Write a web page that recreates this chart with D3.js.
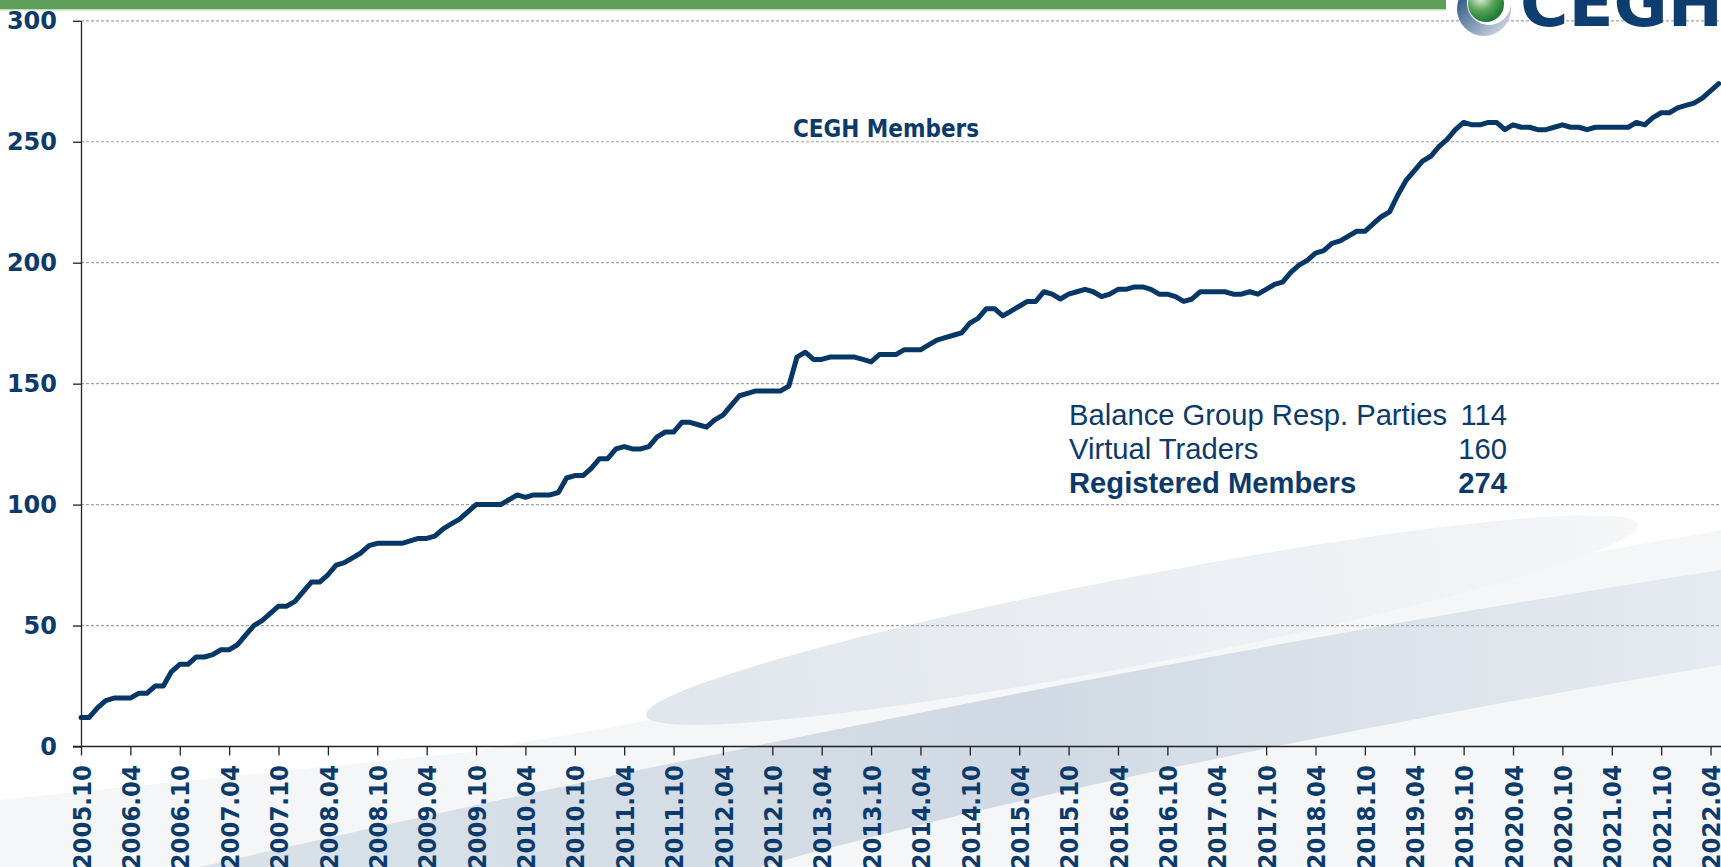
<!DOCTYPE html>
<html>
<head>
<meta charset="utf-8">
<script src="https://cdn.jsdelivr.net/npm/d3@7"></script>
<style>
  body { margin: 0; background: #fff; overflow: hidden; }
  svg { display: block; }
</style>
</head>
<body>
<svg id="chart"></svg>
<script>
// Chart size = browser window
const width = 1721, height = 867;

// Monthly number of CEGH members, first month 2005.10
const startYear = 2005, startMonth = 10;
const members = [
  12, 12, 16, 19, 20, 20, 20, 22, 22, 25, 25, 31, 34, 34, 37, 37, 38, 40, 40, 42,
  46, 50, 52, 55, 58, 58, 60, 64, 68, 68, 71, 75, 76, 78, 80, 83, 84, 84, 84, 84,
  85, 86, 86, 87, 90, 92, 94, 97, 100, 100, 100, 100, 102, 104, 103, 104, 104, 104, 105, 111,
  112, 112, 115, 119, 119, 123, 124, 123, 123, 124, 128, 130, 130, 134, 134, 133, 132, 135, 137, 141,
  145, 146, 147, 147, 147, 147, 149, 161, 163, 160, 160, 161, 161, 161, 161, 160, 159, 162, 162, 162,
  164, 164, 164, 166, 168, 169, 170, 171, 175, 177, 181, 181, 178, 180, 182, 184, 184, 188, 187, 185,
  187, 188, 189, 188, 186, 187, 189, 189, 190, 190, 189, 187, 187, 186, 184, 185, 188, 188, 188, 188,
  187, 187, 188, 187, 189, 191, 192, 196, 199, 201, 204, 205, 208, 209, 211, 213, 213, 216, 219, 221,
  228, 234, 238, 242, 244, 248, 251, 255, 258, 257, 257, 258, 258, 255, 257, 256, 256, 255, 255, 256,
  257, 256, 256, 255, 256, 256, 256, 256, 256, 258, 257, 260, 262, 262, 264, 265, 266, 268, 271, 274
];

// Labelled ticks on the category axis
const tickLabels = [
  "2005.10", "2006.04", "2006.10", "2007.04", "2007.10", "2008.04", "2008.10", "2009.04",
  "2009.10", "2010.04", "2010.10", "2011.04", "2011.10", "2012.04", "2012.10", "2013.04",
  "2013.10", "2014.04", "2014.10", "2015.04", "2015.10", "2016.04", "2016.10", "2017.04",
  "2017.10", "2018.04", "2018.10", "2019.04", "2019.10", "2020.04", "2020.10", "2021.04",
  "2021.10", "2022.04"
];
const yTicks = [0, 50, 100, 150, 200, 250, 300];

// Summary box
const summaryLabels = ["Balance Group Resp. Parties", "Virtual Traders", "Registered Members"];
const summaryValues = [114, 160, 274];

const navy = "#0c3a6a";
const boldFont = "'DejaVu Sans', Verdana, sans-serif";
const narrowFont = "'DejaVu Sans Condensed', 'DejaVu Sans', Verdana, sans-serif";

// month categories 2005.10, 2005.11, ...
const months = members.map((_, i) => {
  const t = startMonth - 1 + i;
  return `${startYear + Math.floor(t / 12)}.${String(t % 12 + 1).padStart(2, "0")}`;
});

const svg = d3.select("#chart")
  .attr("width", width)
  .attr("height", height);

const x = d3.scalePoint()
  .domain(months)
  .range([81, 81 + 8.23 * (months.length - 1)]);

const y = d3.scaleLinear()
  .domain([0, 300])
  .range([746.5, 20.8]);

const defs = svg.append("defs");

// --- faint background artwork (the slide's swoosh) ---
const bandGrad = defs.append("linearGradient").attr("id", "band")
  .attr("x1", "0%").attr("y1", "0%").attr("x2", "100%").attr("y2", "0%");
bandGrad.append("stop").attr("offset", "0%").attr("stop-color", "#d9e1e9");
bandGrad.append("stop").attr("offset", "55%").attr("stop-color", "#d1dae4");
bandGrad.append("stop").attr("offset", "100%").attr("stop-color", "#e6ebf0");

const ovalGrad = defs.append("linearGradient").attr("id", "oval")
  .attr("x1", "0%").attr("y1", "0%").attr("x2", "100%").attr("y2", "0%");
ovalGrad.append("stop").attr("offset", "0%").attr("stop-color", "#e1e6ec");
ovalGrad.append("stop").attr("offset", "100%").attr("stop-color", "#f4f6f8");

const bg = svg.append("g");
bg.append("path")
  .attr("d", "M0,800 L470,752 L1721,530 L1721,867 L0,867 Z")
  .attr("fill", "#f4f6f8");
bg.append("path")
  .attr("d", "M200,867 C620,770 1200,650 1721,570 L1721,665 C1300,735 960,810 760,867 Z")
  .attr("fill", "url(#band)");
bg.append("ellipse")
  .attr("cx", 1142).attr("cy", 620)
  .attr("rx", 505).attr("ry", 44)
  .attr("transform", "rotate(-10.9 1142 620)")
  .attr("fill", "url(#oval)");

// --- top green bar ---
svg.append("rect").attr("x", 0).attr("y", 0).attr("width", 1446).attr("height", 9).attr("fill", "#5f9e59");
svg.append("rect").attr("x", 0).attr("y", 9).attr("width", 1446).attr("height", 1.5).attr("fill", "#bfe0b6");

// --- gridlines ---
svg.append("g")
  .selectAll("line")
  .data(yTicks.filter(d => d > 0))
  .join("line")
  .attr("x1", 81).attr("x2", width)
  .attr("y1", d => y(d)).attr("y2", d => y(d))
  .attr("stroke", "#a3a3a3")
  .attr("stroke-width", 1.2)
  .attr("stroke-dasharray", "3,2");

// --- logo ---
const blueGrad = defs.append("linearGradient").attr("id", "swoosh")
  .attr("x1", "0%").attr("y1", "0%").attr("x2", "100%").attr("y2", "100%");
blueGrad.append("stop").attr("offset", "0%").attr("stop-color", "#0e3d70");
blueGrad.append("stop").attr("offset", "100%").attr("stop-color", "#e4e9f0");
const greenGrad = defs.append("radialGradient").attr("id", "ball")
  .attr("cx", "35%").attr("cy", "30%").attr("r", "70%");
greenGrad.append("stop").attr("offset", "0%").attr("stop-color", "#f2f8ef");
greenGrad.append("stop").attr("offset", "55%").attr("stop-color", "#5aa55a");
greenGrad.append("stop").attr("offset", "100%").attr("stop-color", "#1f7a35");

const logo = svg.append("g");
logo.append("circle").attr("cx", 1484).attr("cy", 9).attr("r", 27).attr("fill", "url(#swoosh)");
logo.append("circle").attr("cx", 1489).attr("cy", 3).attr("r", 22).attr("fill", "#fff");
logo.append("circle").attr("cx", 1486).attr("cy", 4).attr("r", 18).attr("fill", "url(#ball)");
logo.append("text")
  .attr("x", 1520).attr("y", 26)
  .attr("font-family", boldFont)
  .attr("font-weight", "bold")
  .attr("font-size", 66)
  .attr("fill", "#0e3e70")
  .text("CEGH");

// --- line ---
const line = d3.line()
  .x((d, i) => x(months[i]))
  .y(d => y(d));

svg.append("path")
  .datum(members)
  .attr("d", line)
  .attr("fill", "none")
  .attr("stroke", "#073766")
  .attr("stroke-width", 5)
  .attr("stroke-linejoin", "round")
  .attr("stroke-linecap", "round");

// --- y axis ---
const yAxis = svg.append("g")
  .attr("transform", "translate(81,0)")
  .call(d3.axisLeft(y).tickValues(yTicks).tickSize(8).tickPadding(16).tickSizeOuter(0));
yAxis.select(".domain").attr("stroke", "#222").attr("stroke-width", 1.3);
yAxis.selectAll(".tick line").attr("stroke", "#222").attr("stroke-width", 1.3);
yAxis.selectAll("text")
  .attr("font-family", boldFont)
  .attr("font-weight", "bold")
  .attr("font-size", 24)
  .attr("fill", navy);

// --- x axis ---
const xAxis = svg.append("g")
  .attr("transform", `translate(0,${y(0)})`)
  .call(d3.axisBottom(x).tickValues(tickLabels).tickSize(9).tickSizeOuter(0));
xAxis.select(".domain").remove();
xAxis.append("line")
  .attr("x1", 73).attr("x2", width)
  .attr("stroke", "#222").attr("stroke-width", 1.3);
xAxis.selectAll(".tick line").attr("stroke", "#222").attr("stroke-width", 1.3);
// labels read bottom-to-top, a little narrower than DejaVu (like Tahoma)
xAxis.selectAll("text")
  .attr("transform", "translate(0,18.5) rotate(-90) scale(0.9,1)")
  .attr("text-anchor", "end")
  .attr("x", 0)
  .attr("y", 0)
  .attr("dy", "0.36em")
  .attr("font-family", boldFont)
  .attr("font-weight", "bold")
  .attr("font-size", 25.5)
  .attr("fill", navy);

// --- chart title ---
svg.append("text")
  .attr("x", 886).attr("y", 137)
  .attr("text-anchor", "middle")
  .attr("font-family", narrowFont)
  .attr("font-weight", "bold")
  .attr("font-size", 24)
  .attr("fill", navy)
  .text("CEGH Members");

// --- summary table ---
const rowY = d3.scalePoint().domain(summaryLabels).range([425, 493]);
const summary = svg.append("g")
  .attr("font-family", "'Liberation Sans', Arial, sans-serif")
  .attr("font-size", 29.2)
  .attr("fill", navy);
summary.selectAll("text.lbl")
  .data(summaryLabels)
  .join("text")
  .attr("class", "lbl")
  .attr("x", 1069)
  .attr("y", d => rowY(d))
  .attr("font-weight", (d, i) => i === 2 ? "bold" : "normal")
  .text(d => d);
summary.selectAll("text.val")
  .data(summaryValues)
  .join("text")
  .attr("class", "val")
  .attr("x", 1507)
  .attr("y", (d, i) => rowY(summaryLabels[i]))
  .attr("text-anchor", "end")
  .attr("font-weight", (d, i) => i === 2 ? "bold" : "normal")
  .text(d => d);
</script>
</body>
</html>
